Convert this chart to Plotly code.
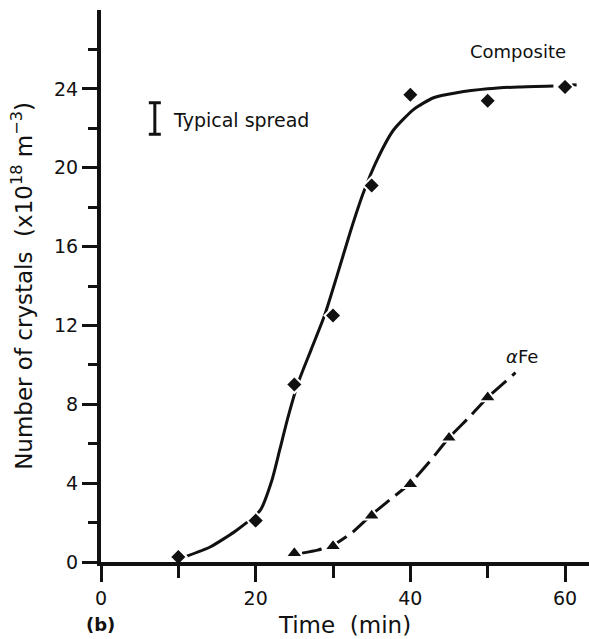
import plotly.graph_objects as go

# Measured points
comp_t = [10, 20, 25, 30, 35, 40, 50, 60]
comp_n = [0.25, 2.1, 9.0, 12.5, 19.1, 23.7, 23.4, 24.1]
afe_t = [25, 30, 35, 40, 45, 50]
afe_n = [0.45, 0.8, 2.35, 3.95, 6.3, 8.35]

# Hand-drawn fitted curves
comp_curve_t = [11.1, 14.1, 17.5, 20.6, 22.1, 23.1, 24.2, 25.5, 27.2, 28.9, 30.5, 32.2,
                33.9, 35.7, 37.8, 40.4, 43.0, 46.0, 50.0, 54.0, 58.5]
comp_curve_n = [0.3, 0.76, 1.6, 2.63, 4.15, 5.67, 7.37, 9.1, 10.8, 12.5, 14.5, 16.7,
                18.7, 20.4, 21.9, 22.95, 23.55, 23.8, 24.0, 24.1, 24.15]
comp_tail_t = [60.9, 61.5]
comp_tail_n = [24.2, 24.2]
afe_curve_t = [26.0, 28, 30, 32.5, 35, 37.5, 40, 42.5, 45, 47.5, 50, 53.6]
afe_curve_n = [0.45, 0.6, 0.85, 1.5, 2.4, 3.2, 4.0, 5.1, 6.3, 7.3, 8.35, 9.6]

spread_t = [6.96]
spread_n = [22.5]
spread_err = [0.8]

x_ticks = [0, 20, 40, 60]
x_minor = [10, 30, 50]
y_ticks = [0, 4, 8, 12, 16, 20, 24]
y_minor = [2, 6, 10, 14, 18, 22, 26]

FONT = "DejaVu Sans"
BLACK = "#111111"

fig = go.Figure()

fig.add_trace(go.Scatter(x=comp_curve_t, y=comp_curve_n, mode="lines",
                         line=dict(color=BLACK, width=3, shape="spline", smoothing=0.6),
                         hoverinfo="skip", cliponaxis=False))
fig.add_trace(go.Scatter(x=comp_tail_t, y=comp_tail_n, mode="lines",
                         line=dict(color=BLACK, width=3), cliponaxis=False))
fig.add_trace(go.Scatter(x=afe_curve_t, y=afe_curve_n, mode="lines",
                         line=dict(color=BLACK, width=3, dash="20px,8px", shape="spline", smoothing=0.6),
                         cliponaxis=False))
fig.add_trace(go.Scatter(x=comp_t, y=comp_n, mode="markers",
                         marker=dict(symbol="diamond", size=13, color=BLACK,
                                     line=dict(color="white", width=2)),
                         cliponaxis=False))
fig.add_trace(go.Scatter(x=afe_t, y=afe_n, mode="markers",
                         marker=dict(symbol="triangle-up", size=15, color=BLACK,
                                     line=dict(color="white", width=2)),
                         cliponaxis=False))
fig.add_trace(go.Scatter(x=spread_t, y=spread_n, mode="markers",
                         marker=dict(size=1, color="rgba(0,0,0,0)"),
                         error_y=dict(type="data", array=spread_err, color=BLACK,
                                      thickness=3, width=6),
                         cliponaxis=False))

fig.update_layout(
    width=589, height=639,
    margin=dict(l=101, r=0, t=10, b=77),
    paper_bgcolor="white", plot_bgcolor="white",
    showlegend=False,
    font=dict(family=FONT, color=BLACK, size=19),
    xaxis=dict(range=[0, 63.1], showgrid=False, zeroline=False,
               showline=True, linewidth=4, linecolor=BLACK,
               tickvals=x_ticks, ticktext=[str(v) for v in x_ticks],
               ticks="outside", ticklen=16, tickwidth=3, tickcolor=BLACK,
               minor=dict(tickvals=x_minor, ticks="outside", ticklen=12,
                          tickwidth=3, tickcolor=BLACK),
               tickfont=dict(size=19, family=FONT),
               title=dict(text="Time  (min)", font=dict(size=23, family=FONT), standoff=10)),
    yaxis=dict(range=[0, 28], showgrid=False, zeroline=False,
               showline=True, linewidth=4, linecolor=BLACK,
               tickvals=y_ticks, ticktext=[str(v) for v in y_ticks],
               ticks="outside", ticklen=15, tickwidth=3, tickcolor=BLACK,
               minor=dict(tickvals=y_minor, ticks="outside",
                          ticklen=9, tickwidth=3, tickcolor=BLACK),
               tickfont=dict(size=19, family=FONT),
               title=dict(text="Number of crystals  (x10<sup>18</sup> m<sup>−3</sup>)",
                          font=dict(size=23, family=FONT), standoff=16)),
    annotations=[
        dict(x=53.9, y=25.9, xref="x", yref="y", text="Composite", showarrow=False,
             font=dict(size=18, family=FONT)),
        dict(x=54.4, y=10.4, xref="x", yref="y", text="<i>α</i>Fe", showarrow=False,
             font=dict(size=18, family=FONT)),
        dict(x=9.1, y=22.4, xref="x", yref="y", text="Typical spread", showarrow=False,
             xanchor="left", font=dict(size=19, family=FONT)),
        dict(x=-0.002, y=-0.114, xref="paper", yref="paper", text="<b>(b)</b>", showarrow=False,
             font=dict(size=18, family=FONT), xanchor="center", yanchor="middle"),
    ],
)

fig.write_html("out.html")
